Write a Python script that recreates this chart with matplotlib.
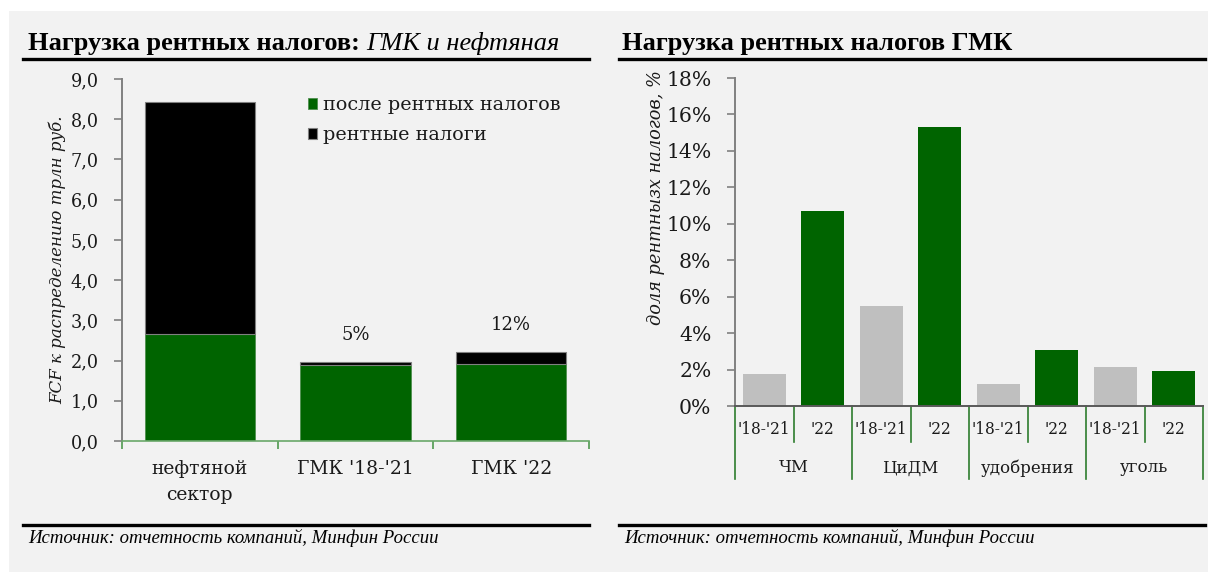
import matplotlib
matplotlib.use("Agg")
import matplotlib.pyplot as plt
from matplotlib.patches import Rectangle
from matplotlib.lines import Line2D
import matplotlib.transforms as mtransforms
import numpy as np

# ---------------- data ----------------
left_categories = ["нефтяной\nсектор", "ГМК '18-'21", "ГМК '22"]
after_tax = [2.65, 1.88, 1.92]
rent_tax = [5.78, 0.09, 0.29]
share_labels = ["", "5%", "12%"]
left_legend = ["после рентных налогов", "рентные налоги"]
left_yticks = [0, 1, 2, 3, 4, 5, 6, 7, 8, 9]

right_groups = ["ЧМ", "ЦиДМ", "удобрения", "уголь"]
right_periods = ["'18-'21", "'22"]
right_values = [1.76, 10.7, 5.5, 15.3, 1.2, 3.05, 2.15, 1.92]
right_yticks = [0, 2, 4, 6, 8, 10, 12, 14, 16, 18]

GREEN = "#006400"
GREY = "#bfbfbf"
BG = "#f2f2f2"
TXT = "#1a1a1a"
TICKF = "DejaVu Serif"
TITLEF = "Liberation Serif"

W, H = 1208, 572
fig = plt.figure(figsize=(W / 100, H / 100), dpi=100, facecolor=BG)

def fx(px):
    return px / W

def fy(py):
    return 1 - py / H

# white margins
fig.patches.append(Rectangle((0, fy(11)), 1, 1, transform=fig.transFigure,
                             facecolor="white", edgecolor="none", zorder=0))
fig.patches.append(Rectangle((0, 0), fx(9), 1, transform=fig.transFigure,
                             facecolor="white", edgecolor="none", zorder=0))

# ---------------- left chart ----------------
axL = fig.add_axes([fx(122), fy(441), fx(589 - 122), (441 - 79) / H])
axL.set_facecolor(BG)
x = np.arange(len(left_categories))
axL.bar(x, after_tax, width=0.71, color=GREEN, edgecolor="#4f8f4f", linewidth=0.6,
        label=left_legend[0], zorder=2)
axL.bar(x, rent_tax, bottom=after_tax, width=0.71, color="black", edgecolor="#808080",
        linewidth=0.8, label=left_legend[1], zorder=2)
for xi, tot, lab in zip(x, np.add(after_tax, rent_tax), share_labels):
    if lab:
        axL.text(xi, tot + 0.45, lab, ha="center", va="bottom", fontsize=13,
                 family=TICKF, color=TXT)
axL.set_xlim(-0.5, len(left_categories) - 0.5)
axL.set_ylim(0, 9)
axL.set_yticks(left_yticks)
axL.set_yticklabels([f"{v:.1f}".replace(".", ",") for v in left_yticks],
                    fontsize=12.7, family=TICKF, color=TXT)
axL.set_xticks(np.arange(-0.5, len(left_categories), 1.0))
axL.set_xticklabels([])
axL.set_xticks(x, minor=True)
axL.set_xticklabels(left_categories, minor=True, fontsize=13.5, family=TICKF,
                    color=TXT, linespacing=1.55)
axL.tick_params(axis="x", which="minor", length=0, pad=14)
axL.tick_params(axis="x", which="major", length=6, color="#4f9a4f", width=1.2)
axL.tick_params(axis="y", length=6, color="#808080", width=1.2, pad=11)
for s in ["top", "right"]:
    axL.spines[s].set_visible(False)
axL.spines["left"].set_color("#808080")
axL.spines["left"].set_linewidth(1.4)
axL.spines["bottom"].set_color("#6aa86a")
axL.spines["bottom"].set_linewidth(1.2)
axL.set_ylabel("FCF к распределению трлн руб.", fontsize=12, family=TICKF,
               style="italic", color=TXT)
axL.yaxis.set_label_coords(-0.12, 0.5)
leg = axL.legend(loc="upper left", bbox_to_anchor=(0.398, 0.952), frameon=False,
                 prop={"family": TICKF, "size": 13.8}, handlelength=0.5,
                 handleheight=0.5, handletextpad=0.3, labelspacing=0.6,
                 borderaxespad=0, borderpad=0)
for t in leg.get_texts():
    t.set_color(TXT)

# ---------------- right chart ----------------
axR = fig.add_axes([fx(735), fy(406), fx(1203 - 735), (406 - 78) / H])
axR.set_facecolor(BG)
xr = np.arange(len(right_values))
colors = [GREY if i % 2 == 0 else GREEN for i in range(len(right_values))]
axR.bar(xr, right_values, width=0.73, color=colors, zorder=2)
axR.set_xlim(-0.5, len(right_values) - 0.5)
axR.set_ylim(0, 18)
axR.set_yticks(right_yticks)
axR.set_yticklabels([f"{v}%" for v in right_yticks], fontsize=14.7,
                    family=TICKF, color=TXT)
axR.set_xticks(xr)
axR.set_xticklabels([right_periods[i % 2] for i in xr], fontsize=11.2,
                    family=TICKF, color=TXT)
axR.tick_params(axis="x", length=0, pad=11)
axR.tick_params(axis="y", length=6, color="#808080", width=1.2, pad=11)
for s in ["top", "right"]:
    axR.spines[s].set_visible(False)
axR.spines["left"].set_color("#808080")
axR.spines["left"].set_linewidth(1.4)
axR.spines["bottom"].set_color("#595959")
axR.spines["bottom"].set_linewidth(1.4)
axR.set_ylabel("доля рентнызх налогов, %", fontsize=12.8, family=TICKF,
               style="italic", color=TXT)
axR.yaxis.set_label_coords(-0.15, 0.635)

trans = mtransforms.blended_transform_factory(axR.transData, fig.transFigure)
ngroups = len(right_groups)
per = len(right_periods)
for g in range(ngroups + 1):
    xb = g * per - 0.5
    axR.add_line(Line2D([xb, xb], [fy(406), fy(479)], transform=trans,
                        color="#2e7d2e", lw=1.2, clip_on=False))
for g in range(ngroups):
    xb = g * per + 0.5
    axR.add_line(Line2D([xb, xb], [fy(406), fy(442)], transform=trans,
                        color="#2e7d2e", lw=1.2, clip_on=False))
    axR.text(g * per + (per - 1) / 2, fy(468), right_groups[g], transform=trans,
             ha="center", va="center", fontsize=12, family=TICKF, color=TXT)

# ---------------- titles, rules, sources ----------------
t1 = fig.text(fx(28), fy(50), "Нагрузка рентных налогов: ", fontsize=19,
              family=TITLEF, weight="bold", ha="left", va="baseline")
fig.canvas.draw()
bb = t1.get_window_extent()
fig.text(bb.x1 / W, fy(50), "ГМК и нефтяная", fontsize=19, family=TITLEF,
         style="italic", ha="left", va="baseline")
fig.text(fx(622), fy(50), "Нагрузка рентных налогов ГМК", fontsize=19,
         family=TITLEF, weight="bold", ha="left", va="baseline")

for (x0, x1) in [(23, 589), (619, 1205)]:
    fig.add_artist(Line2D([fx(x0), fx(x1)], [fy(59), fy(59)], color="black", lw=2.4))
    fig.add_artist(Line2D([fx(x0), fx(x1)], [fy(525), fy(525)], color="black", lw=2.4))

fig.text(fx(28), fy(543), "Источник: отчетность компаний, Минфин России",
         fontsize=13.5, family=TITLEF, style="italic", ha="left", va="baseline")
fig.text(fx(624), fy(543), "Источник: отчетность компаний, Минфин России",
         fontsize=13.5, family=TITLEF, style="italic", ha="left", va="baseline")

fig.savefig("out.png", dpi=100, facecolor=BG)
